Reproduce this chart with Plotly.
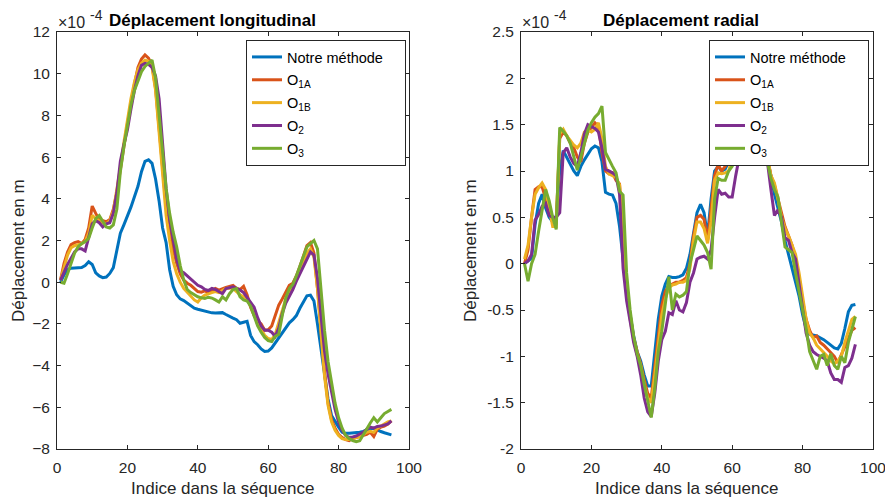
import plotly.graph_objects as go

# ---------------- data (values in units of 1e-4 m) ----------------
idx = list(range(1, 96))

series_names = ["Notre méthode\u00a0\u00a0\u00a0\u00a0", "O<sub>1A</sub>", "O<sub>1B</sub>", "O<sub>2</sub>", "O<sub>3</sub>"]
colors = ["#0072BD", "#D95319", "#EDB120", "#7E2F8E", "#77AC30"]

# Left panel: Déplacement longitudinal
long_notre = [
    0.0, 0.35, 0.6, 0.67, 0.68, 0.7, 0.7, 0.8, 0.98, 0.85,
    0.45, 0.3, 0.22, 0.25, 0.42, 0.7, 1.5, 2.35, 2.75, 3.15,
    3.6, 4.1, 4.6, 5.3, 5.8, 5.87, 5.7, 4.95, 3.9, 2.6,
    1.9, 0.6, -0.2, -0.6, -0.8, -0.88, -1.0, -1.15, -1.25, -1.3,
    -1.35, -1.4, -1.45, -1.47, -1.48, -1.47, -1.46, -1.55, -1.65, -1.72,
    -1.8, -1.97, -1.92, -1.88, -2.55, -2.85, -3.0, -3.2, -3.32, -3.3,
    -3.15, -2.9, -2.68, -2.4, -2.15, -1.95, -1.8, -1.6, -1.25, -0.95,
    -0.65, -0.62, -0.9, -2.0, -3.2, -4.6, -5.6, -6.4, -6.7, -6.95,
    -7.2, -7.25, -7.25, -7.24, -7.22, -7.2, -7.16, -7.1, -7.02, -7.0,
    -7.1, -7.16, -7.22, -7.28, -7.32]
long_o1a = [
    0.1, 0.9, 1.45, 1.8, 1.9, 1.95, 1.85, 2.05, 2.6, 3.65,
    3.3, 3.0, 2.95, 2.9, 3.0, 3.5, 4.3, 5.3, 6.5, 7.6,
    8.6, 9.5, 10.3, 10.7, 10.9, 10.75, 10.4, 9.3, 7.4, 5.3,
    3.6, 2.5, 1.6, 0.9, 0.4, 0.1, -0.05, -0.15, -0.3, -0.45,
    -0.48, -0.42, -0.5, -0.4, -0.3, -0.38, -0.3, -0.25, -0.2, -0.15,
    -0.3, -0.35, -0.2, -0.6, -1.2, -1.6, -1.85, -2.0, -2.3, -2.28,
    -2.1, -1.6, -1.1, -0.8, -0.5, -0.15, -0.05, 0.3, 0.75, 1.3,
    1.75, 1.9, 1.4, -0.3, -2.5, -4.3, -5.8, -6.6, -7.0, -7.3,
    -7.45, -7.55, -7.6, -7.5, -7.45, -7.4, -7.35, -7.3, -7.2, -7.4,
    -7.05, -6.95, -6.9, -6.8, -6.65]
long_o1b = [
    0.1, 0.75, 1.3, 1.65, 1.75, 1.8, 1.85, 1.95, 2.35, 3.2,
    3.05, 2.95, 2.85, 2.8, 2.95, 3.4, 4.4, 5.5, 6.7, 7.8,
    8.8, 9.6, 10.2, 10.5, 10.65, 10.6, 10.3, 9.2, 7.2, 5.0,
    3.2, 2.0, 1.0, 0.4, 0.0, -0.3, -0.5, -0.65, -0.85, -0.95,
    -0.75, -0.62, -0.55, -0.5, -0.45, -0.5, -0.4, -0.3, -0.28, -0.3,
    -0.45, -0.6, -0.7, -0.8, -1.1, -1.5, -2.0, -2.3, -2.55, -2.7,
    -2.75, -2.5, -1.9, -1.3, -0.8, -0.4, -0.15, 0.1, 0.5, 0.95,
    1.4, 1.6, 1.2, -0.3, -2.6, -4.5, -5.9, -6.7, -7.1, -7.35,
    -7.5, -7.55, -7.55, -7.5, -7.45, -7.4, -7.3, -7.2, -7.15, -7.2,
    -7.0, -6.9, -6.8, -6.7, -6.65]
long_o2 = [
    0.1, 0.5, 0.85, 1.15, 1.45, 1.6, 1.6, 1.5, 2.2, 2.8,
    2.95, 2.85, 2.65, 2.8, 2.85, 3.3, 4.3, 5.8, 6.6, 7.3,
    8.3, 9.2, 9.9, 10.4, 10.5, 10.45, 10.3, 9.9, 8.8, 6.6,
    4.5, 3.0, 2.0, 1.1, 0.55, 0.45, 0.3, 0.15, 0.0, -0.15,
    -0.22, -0.35, -0.4, -0.3, -0.35, -0.45, -0.55, -0.3, -0.25, -0.22,
    -0.3, -0.38, -0.5, -0.75, -1.0, -1.2, -1.7, -2.1, -2.3, -2.3,
    -2.4, -2.6, -2.2, -1.5, -1.0, -0.7, -0.35, 0.05, 0.4, 0.75,
    1.1, 1.45, 1.3, 0.2, -1.6, -3.3, -4.4, -5.3, -6.1, -6.7,
    -7.1, -7.35, -7.45, -7.42, -7.38, -7.28, -7.2, -7.05, -6.95, -7.0,
    -6.92, -6.9, -6.85, -6.8, -6.65]
long_o3 = [
    0.0, -0.05, 0.4, 0.95, 1.4, 1.7, 1.85, 1.95, 2.1, 2.6,
    3.05, 3.2, 2.95, 2.65, 2.6, 2.75, 3.5, 5.3, 6.5, 7.6,
    8.5, 9.2, 9.7, 10.1, 10.35, 10.5, 10.65, 9.8, 8.0, 6.0,
    4.5, 3.3, 2.4, 1.7, 0.8, 0.1, -0.35, -0.5, -0.62, -0.7,
    -0.75, -0.78, -0.72, -0.76, -0.85, -0.95, -0.7, -0.85, -0.55, -0.35,
    -0.3, -0.7, -0.85, -0.9, -1.15, -1.6, -2.1, -2.4, -2.65, -2.8,
    -2.85, -2.6, -2.5, -1.6, -0.75, -0.3, -0.1, 0.3, 0.8, 1.3,
    1.7, 1.85, 2.0, 1.6, -0.5, -2.3, -3.8, -4.8, -5.8, -6.5,
    -7.0, -7.35, -7.5, -7.6, -7.65, -7.6, -7.3, -7.0, -6.75, -6.5,
    -6.7, -6.5, -6.3, -6.2, -6.1]

# Right panel: Déplacement radial
rad_notre = [
    0.0, 0.03, 0.06, 0.42, 0.65, 0.75, 0.6, 0.5, 0.45, 0.5,
    1.0, 1.22, 1.15, 1.07, 1.0, 0.95, 1.05, 1.12, 1.18, 1.24,
    1.27, 1.25, 1.1, 0.77, 0.75, 0.74, 0.65, 0.4, 0.05, -0.3,
    -0.55, -0.78, -0.95, -1.05, -1.2, -1.32, -1.32, -0.95, -0.6, -0.35,
    -0.22, -0.14, -0.15, -0.15, -0.14, -0.12, -0.05, 0.1, 0.35, 0.55,
    0.64, 0.55, 0.3, 0.7, 1.0, 1.05, 1.0, 1.02, 1.1, 1.2,
    1.3, 1.4, 1.5, 1.55, 1.55, 1.5, 1.4, 1.3, 1.2, 1.12,
    0.95, 0.75, 0.6, 0.45, 0.25, 0.1, -0.05, -0.2, -0.35, -0.55,
    -0.7, -0.76, -0.77, -0.78, -0.8, -0.82, -0.85, -0.88, -0.91, -0.92,
    -0.86, -0.7, -0.52, -0.45, -0.44]
rad_o1a = [
    0.0, 0.15, 0.5, 0.8, 0.83, 0.83, 0.7, 0.58, 0.5, 0.42,
    1.35, 1.42, 1.38, 1.3, 1.25, 1.15, 1.1, 1.3, 1.42, 1.47,
    1.52, 1.48, 1.2, 1.0, 0.97, 0.98, 0.9, 0.86, 0.3, -0.3,
    -0.55, -0.8, -0.95, -1.08, -1.25, -1.4, -1.45, -1.1, -0.75, -0.45,
    -0.3, -0.24, -0.22, -0.2, -0.2, -0.18, -0.15, 0.0, 0.3, 0.5,
    0.52, 0.48, 0.25, 0.6, 0.95, 1.07, 1.0, 1.05, 1.1, 1.22,
    1.3, 1.4, 1.5, 1.55, 1.55, 1.5, 1.45, 1.35, 1.25, 1.15,
    0.95, 0.85, 0.7, 0.55, 0.4, 0.3, 0.2, 0.05, -0.15, -0.4,
    -0.6, -0.72, -0.8, -0.78, -0.85, -0.88, -0.92, -0.95, -1.0, -1.07,
    -0.98, -0.9, -0.8, -0.72, -0.69]
rad_o1b = [
    0.05, 0.2, 0.5, 0.75, 0.82, 0.87, 0.8, 0.6, 0.4, 0.4,
    1.4, 1.45, 1.38, 1.33, 1.28, 1.25, 1.3, 1.42, 1.44, 1.42,
    1.45, 1.52, 1.35, 1.05, 0.97, 0.95, 0.93, 0.85, 0.35, -0.3,
    -0.6, -0.82, -0.98, -1.1, -1.3, -1.45, -1.5, -1.2, -0.85, -0.55,
    -0.38, -0.26, -0.23, -0.22, -0.2, -0.2, -0.18, -0.05, 0.25, 0.45,
    0.45, 0.38, 0.22, 0.45, 0.9, 0.98, 0.97, 0.98, 1.0, 1.15,
    1.25, 1.35, 1.45, 1.5, 1.52, 1.5, 1.45, 1.35, 1.25, 1.15,
    0.95, 0.87, 0.7, 0.5, 0.38, 0.3, 0.2, 0.1, -0.1, -0.35,
    -0.6, -0.75, -0.8, -0.88, -0.92, -0.95, -1.0, -1.05, -1.08, -1.05,
    -1.0, -0.85, -0.72, -0.6, -0.57]
rad_o2 = [
    0.0, 0.03, 0.1, 0.47, 0.53, 0.62, 0.65, 0.52, 0.5, 0.5,
    0.55, 1.2, 1.25, 1.15, 1.08, 1.05, 1.2, 1.4, 1.5, 1.48,
    1.46, 1.42, 1.25, 1.02, 1.0, 0.98, 0.95, 0.75, -0.05, -0.4,
    -0.62, -0.85, -1.0, -1.2, -1.45, -1.6, -1.65, -1.4, -1.05, -0.82,
    -0.73, -0.53, -0.55, -0.4, -0.5, -0.52, -0.42, -0.2, -0.1, 0.05,
    0.07, 0.08, 0.05, 0.15, 0.5, 0.8, 0.75, 0.76, 0.72, 0.72,
    0.95, 1.15, 1.3, 1.4, 1.45, 1.45, 1.4, 1.3, 1.2, 1.1,
    0.8, 0.52, 0.58, 0.5, 0.28, 0.25, 0.12, 0.05, -0.22, -0.5,
    -0.75, -0.88, -0.95, -0.98, -1.0, -1.02, -1.05, -1.18, -1.25, -1.25,
    -1.28, -1.12, -1.1, -1.02, -0.87]
rad_o3 = [
    0.0, -0.19, 0.0, 0.1, 0.35, 0.6, 0.8, 0.68, 0.5, 0.37,
    1.47, 1.43, 1.38, 1.3, 1.15, 1.01, 1.15, 1.3, 1.44, 1.52,
    1.58, 1.62, 1.7, 1.2, 1.12, 1.05, 0.98, 0.78, 0.74, -0.1,
    -0.5, -0.78, -0.97, -1.1, -1.3, -1.5, -1.66, -1.35, -0.95, -0.73,
    -0.45, -0.14, -0.5, -0.33, -0.36, -0.34, -0.3, 0.0, 0.15, 0.3,
    0.25, 0.2, 0.12, -0.06, 0.7, 0.92, 0.9, 0.9, 1.0, 1.05,
    1.15, 1.3, 1.4, 1.45, 1.5, 1.45, 1.4, 1.3, 1.2, 1.1,
    0.92, 0.8, 0.72, 0.45, 0.18, 0.15, 0.12, -0.1, -0.3, -0.5,
    -0.7, -0.95, -1.05, -1.14, -1.0, -0.98, -1.1, -0.97, -1.1, -1.14,
    -1.0, -1.07, -0.85, -0.7, -0.57]

x_ticks = [0, 20, 40, 60, 80, 100]
long_ticks = [-8, -6, -4, -2, 0, 2, 4, 6, 8, 10, 12]
rad_ticks = [-2, -1.5, -1, -0.5, 0, 0.5, 1, 1.5, 2, 2.5]
rad_tick_text = ["-2", "-1.5", "-1", "-0.5", "0", "0.5", "1", "1.5", "2", "2.5"]

left_series = [long_notre, long_o1a, long_o1b, long_o2, long_o3]
right_series = [rad_notre, rad_o1a, rad_o1b, rad_o2, rad_o3]

# ---------------- figure ----------------
W, H = 885, 497
FONT = "Liberation Sans, Arial, Helvetica, sans-serif"
INK = "#262626"

def px_x(p):
    return p / W

def px_y(p):
    return 1 - p / H

fig = go.Figure()

for i, (name, col) in enumerate(zip(series_names, colors)):
    fig.add_trace(go.Scatter(
        x=idx, y=left_series[i], mode="lines", name=name,
        line=dict(color=col, width=3), xaxis="x", yaxis="y",
        legend="legend", legendgroup=f"L{i}"))
for i, (name, col) in enumerate(zip(series_names, colors)):
    fig.add_trace(go.Scatter(
        x=idx, y=right_series[i], mode="lines", name=name,
        line=dict(color=col, width=3), xaxis="x2", yaxis="y2",
        legend="legend2", legendgroup=f"R{i}"))

ydom = [px_y(449), px_y(32)]
axis_common = dict(
    showline=True, linecolor=INK, linewidth=1, mirror="ticks",
    ticks="inside", ticklen=4, tickcolor=INK, tickwidth=1,
    showgrid=False, zeroline=False, automargin=False,
    ticklabeloverflow="allow",
    tickfont=dict(family=FONT, size=15.5, color=INK),
)

leg_common = dict(xanchor="left", yanchor="top",
                  bgcolor="white", bordercolor=INK, borderwidth=1,
                  font=dict(family=FONT, size=14.5, color="black"),
                  tracegroupgap=1, itemwidth=30)

fig.update_layout(
    width=W, height=H,
    margin=dict(l=0, r=0, t=0, b=0),
    paper_bgcolor="white", plot_bgcolor="white",
    xaxis=dict(domain=[px_x(57), px_x(409)], range=[0, 100], tickvals=x_ticks,
               anchor="y", ticklabelstandoff=4, **axis_common),
    yaxis=dict(domain=ydom, range=[-8, 12], tickvals=long_ticks,
               anchor="x", ticklabelstandoff=3, **axis_common),
    xaxis2=dict(domain=[px_x(521), px_x(873)], range=[0, 100], tickvals=x_ticks,
                anchor="y2", ticklabelstandoff=4, **axis_common),
    yaxis2=dict(domain=ydom, range=[-2, 2.5], tickvals=rad_ticks, ticktext=rad_tick_text,
                anchor="x2", ticklabelstandoff=3, **axis_common),
    legend=dict(x=px_x(246), y=px_y(40), **leg_common),
    legend2=dict(x=px_x(709), y=px_y(40), **leg_common),
    showlegend=True,
)

annotations = [
    # titles
    dict(text="<b>Déplacement longitudinal</b>", x=px_x(212), y=px_y(20),
         font=dict(family=FONT, size=17, color="black")),
    dict(text="<b>Déplacement radial</b>", x=px_x(681), y=px_y(20),
         font=dict(family=FONT, size=17, color="black")),
    # exponent labels
    dict(text="×10", x=px_x(56), y=px_y(23), xanchor="left",
         font=dict(family=FONT, size=16, color=INK)),
    dict(text="-4", x=px_x(88), y=px_y(15), xanchor="left",
         font=dict(family=FONT, size=14, color=INK)),
    dict(text="×10", x=px_x(520), y=px_y(23), xanchor="left",
         font=dict(family=FONT, size=16, color=INK)),
    dict(text="-4", x=px_x(552), y=px_y(15), xanchor="left",
         font=dict(family=FONT, size=14, color=INK)),
    # x axis titles
    dict(text="Indice dans la séquence", x=px_x(222), y=px_y(488),
         font=dict(family=FONT, size=17, color=INK)),
    dict(text="Indice dans la séquence", x=px_x(686), y=px_y(488),
         font=dict(family=FONT, size=17, color=INK)),
    # y axis titles
    dict(text="Déplacement en m", x=px_x(18), y=px_y(251), textangle=-90,
         font=dict(family=FONT, size=17, color=INK)),
    dict(text="Déplacement en m", x=px_x(470), y=px_y(251), textangle=-90,
         font=dict(family=FONT, size=17, color=INK)),
]
for a in annotations:
    a.setdefault("xanchor", "center")
    a.setdefault("yanchor", "middle")
    a.update(xref="paper", yref="paper", showarrow=False)
fig.update_layout(annotations=annotations)

fig.write_html("out.html", config={"displayModeBar": False},
               post_script="document.body.style.margin='0px';document.body.style.padding='0px';")
